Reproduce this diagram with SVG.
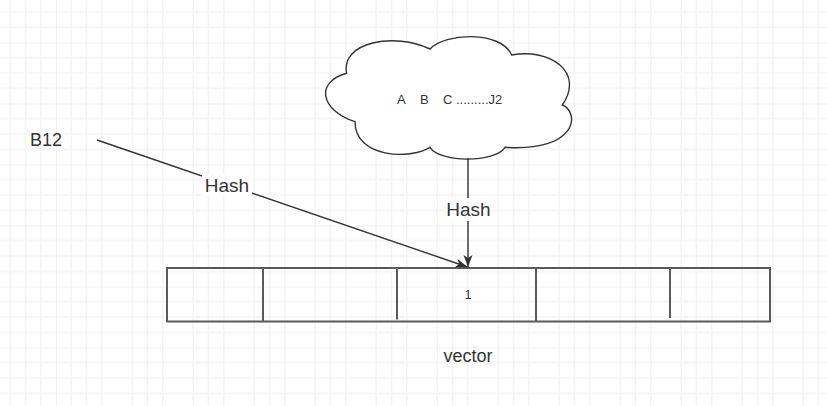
<svg xmlns="http://www.w3.org/2000/svg" width="827" height="406" viewBox="0 0 827 406">
<style>
.t{font-family:"Liberation Sans",Arial,sans-serif;fill:#333333}
.conn{fill:none;stroke:#333333;stroke-width:1.4}
.box{fill:none;stroke:#5a5a5a;stroke-width:2}
</style>
<defs>
<pattern id="grid" patternUnits="userSpaceOnUse" x="56" y="42.5" width="61" height="61">
<path d="M15.25 0V61M30.5 0V61M45.75 0V61M0 15.25H61M0 30.5H61M0 45.75H61" stroke="#f4f4f4" stroke-width="1.5" fill="none"/>
<path d="M0 0V61M0 0H61" stroke="#ebebeb" stroke-width="1.5" fill="none"/>
</pattern>
<marker id="arr" markerUnits="userSpaceOnUse" markerWidth="14" markerHeight="10" refX="12" refY="4.5" orient="auto">
<path d="M0 0L12 4.5L0 9L3 4.5Z" fill="#333333"/>
</marker>
</defs>
<rect width="827" height="406" fill="#ffffff"/>
<rect width="827" height="406" fill="url(#grid)"/>

<g id="cloud">
<path d="M346.7 73.3C340 42 395 32 430 49C445 33 500 30 511.7 55C550 48 585 72 562.3 105C580 112 578 152 505 147.3C495 163 440 163 430 147.3C410 160 355 158 355 121.7C320 110 315 82 346.7 73.3Z" fill="#ffffff" stroke="#333333" stroke-width="1.4"/>
<text class="t" font-size="13" y="103.5"><tspan x="397">A</tspan><tspan x="420">B</tspan><tspan x="443">C .........J2</tspan></text>
</g>

<g id="b12">
<text class="t" font-size="18" x="30" y="146">B12</text>
</g>

<g id="vector">
<rect class="box" x="167" y="268" width="603" height="53.5"/>
<path class="box" d="M263 268V321.5M397 268V319.5M536 268V321.5M670 268V318"/>
<text class="t" font-size="12" x="468" y="299" text-anchor="middle">1</text>
<text class="t" font-size="18" x="468" y="361.5" text-anchor="middle">vector</text>
</g>

<g id="connectors">
<path class="conn" d="M97 140L467.5 267" marker-end="url(#arr)"/>
<path class="conn" d="M468 158V267" marker-end="url(#arr)"/>
<rect x="202" y="174" width="50" height="22" fill="#ffffff"/>
<text class="t" font-size="19" x="227" y="191.5" text-anchor="middle">Hash</text>
<rect x="444" y="198" width="49" height="23" fill="#ffffff"/>
<text class="t" font-size="19" x="468.5" y="215.5" text-anchor="middle">Hash</text>
</g>
</svg>
